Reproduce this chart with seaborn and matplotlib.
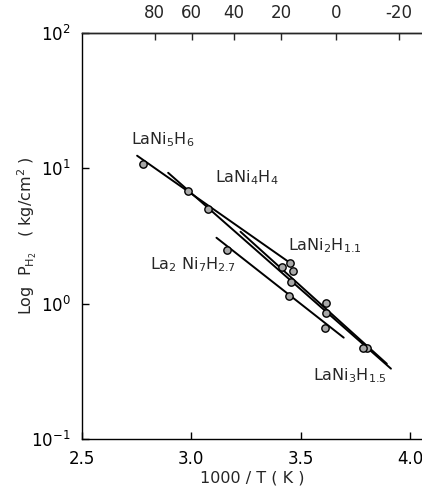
import numpy as np
import pandas as pd
import matplotlib
matplotlib.use("Agg")
import matplotlib.pyplot as plt
import seaborn as sns

# ---- data (1000/T in K^-1, pressure in kg/cm^2) ----
series = ["LaNi5H6", "LaNi4H4", "LaNi2H1.1", "LaNi3H1.5"]

pts_x_LaNi5 = [2.780, 2.986, 3.078, 3.450]
pts_y_LaNi5 = [10.8, 6.82, 5.02, 2.01]
pts_x_LaNi4 = [3.454, 3.615, 3.803]
pts_y_LaNi4 = [1.45, 0.86, 0.473]
pts_x_LaNi2 = [3.413, 3.463, 3.615, 3.784]
pts_y_LaNi2 = [1.88, 1.75, 1.02, 0.473]
pts_x_LaNi3 = [3.165, 3.445, 3.610]
pts_y_LaNi3 = [2.51, 1.13, 0.665]

# fitted lines: start / end (x, y)
line_x0 = [2.752, 2.894, 3.225, 3.115]
line_y0 = [12.4, 9.27, 3.40, 3.07]
line_x1 = [3.450, 3.913, 3.894, 3.697]
line_y1 = [2.01, 0.331, 0.360, 0.561]

top_temps_C = [80, 60, 40, 20, 0, -20]
x_ticks = [2.5, 3.0, 3.5, 4.0]
x_ticklabels = ["2.5", "3.0", "3.5", "4.0"]

labels = ["LaNi$_5$H$_6$", "LaNi$_4$H$_4$", "LaNi$_2$H$_{1.1}$",
          "La$_2$ Ni$_7$H$_{2.7}$", "LaNi$_3$H$_{1.5}$"]
label_x = [2.725, 3.110, 3.440, 2.812, 3.555]
label_y = [16.2, 8.51, 2.68, 1.94, 0.294]

# ---- build tables ----
pts = pd.DataFrame({
    "x": pts_x_LaNi5 + pts_x_LaNi4 + pts_x_LaNi2 + pts_x_LaNi3,
    "y": pts_y_LaNi5 + pts_y_LaNi4 + pts_y_LaNi2 + pts_y_LaNi3,
    "s": ([series[0]] * len(pts_x_LaNi5) + [series[1]] * len(pts_x_LaNi4)
          + [series[2]] * len(pts_x_LaNi2) + [series[3]] * len(pts_x_LaNi3)),
})
lines = pd.DataFrame({
    "x": line_x0 + line_x1,
    "y": line_y0 + line_y1,
    "s": series + series,
})

sns.set_style("ticks")
plt.rcParams["font.family"] = ["DejaVu Sans"]
plt.rcParams["mathtext.fontset"] = "dejavusans"

fig = plt.figure(figsize=(4.22, 4.99), dpi=100)
ax = fig.add_axes([0.1943, 0.1202, 0.8057, 0.8137])

sns.lineplot(data=lines, x="x", y="y", units="s", estimator=None,
             color="black", linewidth=1.4, ax=ax, legend=False)
sns.scatterplot(data=pts, x="x", y="y", color="#a8a8a8", edgecolor="black",
                linewidth=1.0, s=28, ax=ax, legend=False, zorder=3)

ax.set_yscale("log")
ax.set_ylim(0.1, 100)
ax.set_xlim(2.5, 4.055)
ax.set_xticks(x_ticks)
ax.set_xticklabels(x_ticklabels)
ax.minorticks_off()
ax.yaxis.set_minor_locator(matplotlib.ticker.NullLocator())
ax.tick_params(axis="both", direction="in", length=5, width=1.0,
               labelsize=12, colors="black", pad=8)
ax.tick_params(axis="y", pad=8)
for sp in ["left", "bottom", "top"]:
    ax.spines[sp].set_visible(True)
    ax.spines[sp].set_linewidth(1.0)
    ax.spines[sp].set_color("black")
ax.spines["right"].set_visible(False)

ax.set_xlabel("1000 / T ( K )", fontsize=11.5, labelpad=2)
ax.set_ylabel("Log  P$_{\\mathrm{H_2}}$   ( kg/cm$^2$ )", fontsize=11.5)
ax.yaxis.set_label_coords(-0.125, 0.5)

# top axis in degrees C
top = ax.twiny()
top.set_xlim(ax.get_xlim())
top.set_xticks([1000.0 / (t + 273.15) for t in top_temps_C])
top.set_xticklabels([str(t) for t in top_temps_C])
top.tick_params(axis="x", direction="in", length=5, width=1.0,
                labelsize=12, pad=8)
for sp in ["left", "right", "bottom"]:
    top.spines[sp].set_visible(False)
top.spines["top"].set_linewidth(1.0)

for txt, lx, ly in zip(labels, label_x, label_y):
    ax.text(lx, ly, txt, fontsize=11.5, ha="left", va="center")

fig.savefig("out.png", dpi=100)
